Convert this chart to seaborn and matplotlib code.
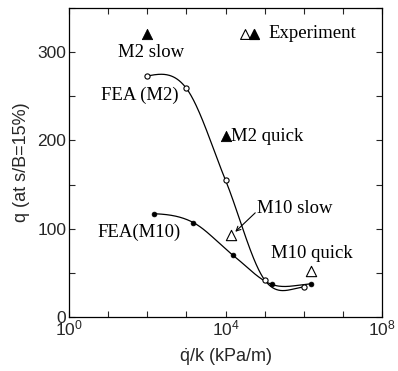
import numpy as np
import pandas as pd
import matplotlib
matplotlib.use("Agg")
import matplotlib.pyplot as plt
from matplotlib.ticker import FixedLocator, FuncFormatter
import seaborn as sns

# FEA results: loading rate (kPa/m) and bearing pressure q at s/B = 15 %
fea_m2_rate = [1e2, 1e3, 1e4, 1e5, 1e6]
fea_m2_q = [273, 259, 155, 42, 34]
fea_m10_rate = [150, 1500, 15500, 150000, 1500000]
fea_m10_q = [117, 107, 70, 37, 37.5]

# Model test results
exp_names = ["M2 slow", "M2 quick", "M10 slow", "M10 quick"]
exp_rate = [1e2, 1e4, 14000, 1500000]
exp_q = [320, 205, 93, 52]
exp_filled = [True, True, False, False]

xtick_exponents = list(range(0, 9))
ytick_values = [0, 100, 200, 300]

sns.set_style("ticks")
plt.rcParams["font.family"] = ["Liberation Sans", "DejaVu Sans"]
plt.rcParams["mathtext.fontset"] = "custom"
plt.rcParams["mathtext.rm"] = "Liberation Sans"
plt.rcParams["mathtext.it"] = "Liberation Sans:italic"
SERIF = ["Liberation Serif", "DejaVu Serif"]


def smooth_curve(xs, ys, start_slope, end_slope, n=60):
    """Cubic Hermite (Catmull-Rom) curve through the points."""
    x = np.asarray(xs, float)
    y = np.asarray(ys, float)
    m = np.empty_like(y)
    m[0], m[-1] = start_slope, end_slope
    m[1:-1] = (y[2:] - y[:-2]) / (x[2:] - x[:-2])
    px, py = [], []
    for i in range(len(x) - 1):
        h = x[i + 1] - x[i]
        t = np.linspace(0, 1, n, endpoint=(i == len(x) - 2))
        h00 = 2 * t**3 - 3 * t**2 + 1
        h10 = t**3 - 2 * t**2 + t
        h01 = -2 * t**3 + 3 * t**2
        h11 = t**3 - t**2
        px.append(x[i] + t * h)
        py.append(h00 * y[i] + h10 * h * m[i] + h01 * y[i + 1] + h11 * h * m[i + 1])
    return np.concatenate(px), np.concatenate(py)


fig = plt.figure(figsize=(3.98, 3.71), dpi=100)
ax = fig.add_axes([69 / 398, 1 - 317 / 371, 313 / 398, 309 / 371])

# smooth FEA curves (drawn in log-rate space)
for rate, q, s0, s1 in [(fea_m2_rate, fea_m2_q, 8, 4),
                        (fea_m10_rate, fea_m10_q, -2, 2)]:
    lx, ly = smooth_curve(np.log10(rate), q, s0, s1)
    curve = pd.DataFrame({"rate": 10 ** lx, "q": ly})
    sns.lineplot(data=curve, x="rate", y="q", ax=ax, color="black", lw=0.9,
                 sort=False, estimator=None)

fea_m2 = pd.DataFrame({"rate": fea_m2_rate, "q": fea_m2_q})
fea_m10 = pd.DataFrame({"rate": fea_m10_rate, "q": fea_m10_q})
sns.scatterplot(data=fea_m2, x="rate", y="q", ax=ax, marker="o", s=14,
                facecolor="white", edgecolor="black", linewidth=0.8, zorder=3)
sns.scatterplot(data=fea_m10, x="rate", y="q", ax=ax, marker="o", s=12,
                color="black", edgecolor="black", linewidth=0.5, zorder=3)

exp = pd.DataFrame({"name": exp_names, "rate": exp_rate, "q": exp_q,
                    "filled": exp_filled})
sns.scatterplot(data=exp[exp.filled], x="rate", y="q", ax=ax, marker="^",
                s=55, color="black", edgecolor="black", linewidth=0.6, zorder=3)
sns.scatterplot(data=exp[~exp.filled], x="rate", y="q", ax=ax, marker="^",
                s=55, facecolor="white", edgecolor="black", linewidth=0.8,
                zorder=3)

ax.set_xscale("log")
ax.set_xlim(1, 1e8)
ax.set_ylim(0, 350)

ax.xaxis.set_major_locator(FixedLocator([10.0 ** e for e in xtick_exponents]))
ax.xaxis.set_minor_locator(FixedLocator([]))
ax.xaxis.set_major_formatter(FuncFormatter(
    lambda v, p: (r"$\mathdefault{10^{%d}}$" % round(np.log10(v)))
    if round(np.log10(v)) % 4 == 0 else ""))
ax.yaxis.set_major_locator(FixedLocator(list(range(0, 351, 50))))
ax.yaxis.set_major_formatter(FuncFormatter(
    lambda v, p: f"{int(v)}" if int(v) in ytick_values else ""))
ax.tick_params(direction="in", length=4, width=0.8, labelsize=12.5,
               top=True, right=True, pad=2)
ax.tick_params(axis="x", pad=1)
for s in ax.spines.values():
    s.set_linewidth(0.9)
    s.set_color("black")

ax.set_xlabel(r"$\dot{\mathrm{q}}$/k (kPa/m)", fontsize=13, labelpad=6)
ax.set_ylabel("q (at s/B=15%)", fontsize=13, labelpad=5)

tk = dict(family=SERIF, fontsize=13.5, color="black")
ax.text(10 ** 2.10, 300, "M2 slow", ha="center", va="center", **tk)
ax.text(10 ** 1.82, 251, "FEA (M2)", ha="center", va="center", **tk)
ax.text(10 ** 4.14, 205, "M2 quick", ha="left", va="center", **tk)
ax.text(10 ** 1.78, 96, "FEA(M10)", ha="center", va="center", **tk)
ax.text(10 ** 4.80, 123, "M10 slow", ha="left", va="center", **tk)
ax.text(10 ** 5.17, 72, "M10 quick", ha="left", va="center", **tk)
ax.annotate("", xy=(10 ** 4.25, 96.5), xytext=(10 ** 4.76, 118),
            arrowprops=dict(arrowstyle="->", lw=0.8, color="black",
                            shrinkA=0, shrinkB=0, mutation_scale=8))

# key for the test symbols
ax.scatter([10 ** 4.50], [321], marker="^", s=50, facecolor="white",
           edgecolor="black", linewidth=0.8, zorder=3)
ax.scatter([10 ** 4.73], [321], marker="^", s=50, color="black", zorder=3)
ax.text(10 ** 5.09, 321, "Experiment", ha="left", va="center", **tk)

fig.savefig("out.png", dpi=100)
